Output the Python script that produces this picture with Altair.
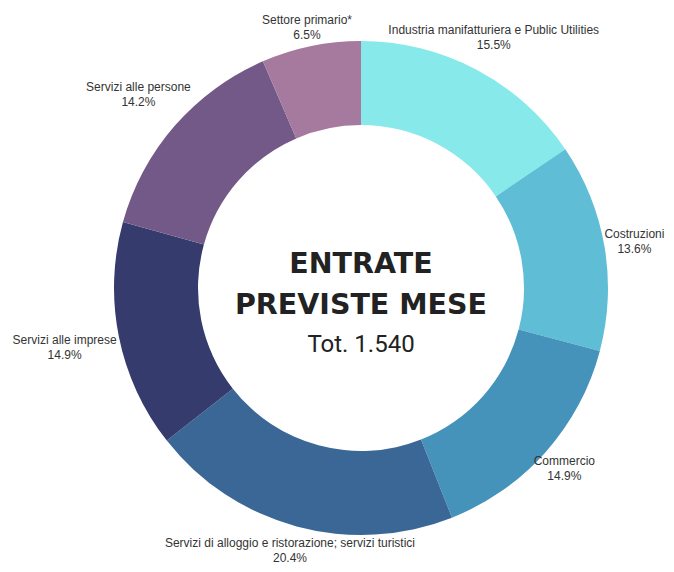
import altair as alt
import pandas as pd

categories = [
    "Industria manifatturiera e Public Utilities",
    "Costruzioni",
    "Commercio",
    "Servizi di alloggio e ristorazione; servizi turistici",
    "Servizi alle imprese",
    "Servizi alle persone",
    "Settore primario*",
]
shares = [15.5, 13.6, 14.9, 20.4, 14.9, 14.2, 6.5]
colors = ["#87E9E9", "#5FBDD5", "#4593BB", "#3B6796", "#353C6D", "#735988", "#A57A9E"]
title_lines = ["ENTRATE", "PREVISTE MESE"]
total_label = "Tot.  1.540"

df = pd.DataFrame({"cat": categories, "share": shares, "order": list(range(len(categories)))})

arcs = alt.Chart(df).mark_arc(innerRadius=163, outerRadius=247).encode(
    theta=alt.Theta("share:Q", stack=True),
    order=alt.Order("order:Q"),
    color=alt.Color("cat:N", scale=alt.Scale(domain=categories, range=colors), legend=None),
)

# labels placed radially outside the ring at the slice mid-angle; the distance grows
# with the label box extent along that direction (half width capped, half height)
labels = alt.Chart(df).transform_window(
    cum="sum(share)", sort=[alt.SortField("order")], frame=[None, 0]
).transform_joinaggregate(
    total="sum(share)"
).transform_calculate(
    mid="2*PI*(datum.cum - datum.share/2)/datum.total",
    hw="min(2.8*length(datum.cat), 60)",
    rr="245 + datum.hw*abs(sin(datum.mid)) + 12*abs(cos(datum.mid))",
    ddx="sin(datum.mid)*datum.rr",
    ddy="-cos(datum.mid)*datum.rr - 7.5",
    lr="sqrt(datum.ddx*datum.ddx + datum.ddy*datum.ddy)",
    lt="atan2(datum.ddx, -datum.ddy)",
    label="datum.cat + '\\n' + format(datum.share, '.1f') + '%'",
).mark_text(
    align="center", baseline="middle", lineBreak="\n",
    font="Liberation Sans", fontSize=12, color="#333333", lineHeight=15,
).encode(
    theta=alt.Theta("lt:Q", scale=None),
    radius=alt.Radius("lr:Q", scale=None),
    text="label:N",
)

t1 = alt.Chart(pd.DataFrame({"t": [title_lines[0]]})).mark_text(
    font="DejaVu Sans", fontWeight="bold", fontSize=28.5, dy=-24, color="#222222",
    align="center", baseline="middle",
).encode(text="t:N")

t2 = alt.Chart(pd.DataFrame({"t": [title_lines[1]]})).mark_text(
    font="DejaVu Sans", fontWeight="bold", fontSize=28.5, dy=17, color="#222222",
    align="center", baseline="middle",
).encode(text="t:N")

t3 = alt.Chart(pd.DataFrame({"t": [total_label]})).mark_text(
    font="Roboto", fontSize=24, dy=57, color="#222222",
    align="center", baseline="middle",
).encode(text="t:N")

chart = alt.layer(arcs, labels, t1, t2, t3).resolve_scale(
    theta="independent", radius="independent"
).properties(
    width=610, height=552,
    padding={"left": 48, "top": 4, "right": 0, "bottom": 0},
    autosize=alt.AutoSizeParams(type="none"),
).configure_view(stroke=None)

chart.save("out.html", embed_options={"renderer": "svg", "actions": False})
